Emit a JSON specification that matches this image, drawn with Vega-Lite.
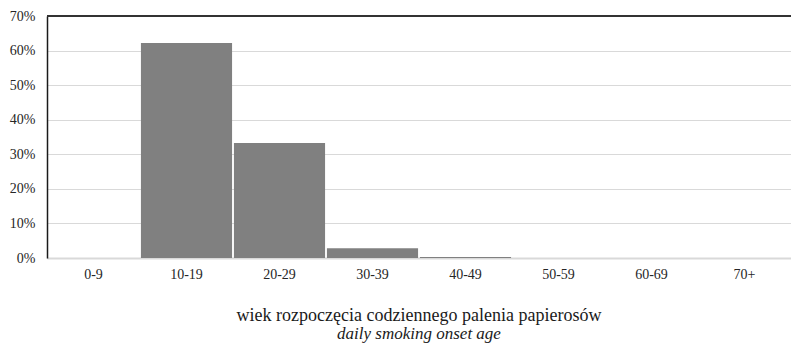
{
  "$schema": "https://vega.github.io/schema/vega-lite/v6.json",
  "width": 744,
  "height": 242,
  "autosize": {"type": "none"},
  "padding": {"left": 47, "top": 16, "right": 0, "bottom": 85},
  "background": "white",
  "config": {
    "font": "Liberation Serif",
    "view": {"stroke": null},
    "axis": {
      "labelFont": "Liberation Serif",
      "labelFontSize": 14,
      "labelColor": "#262626",
      "ticks": false,
      "title": null
    },
    "axisX": {
      "labelAngle": 0,
      "labelPadding": 9,
      "domainColor": "#d9d9d9",
      "domainWidth": 2,
      "grid": false
    },
    "axisY": {
      "labelPadding": 12,
      "labelOverlap": false,
      "domainColor": "#1a1a1a",
      "domainWidth": 1.5,
      "gridColor": "#d9d9d9",
      "gridWidth": 1
    },
    "title": {"font": "Liberation Serif", "subtitleFont": "Liberation Serif"}
  },
  "title": {
    "text": "wiek rozpoczęcia codziennego palenia papierosów",
    "subtitle": "daily smoking onset age",
    "orient": "bottom",
    "anchor": "middle",
    "fontSize": 18,
    "fontWeight": "normal",
    "color": "#1a1a1a",
    "subtitleFontSize": 17,
    "subtitleFontStyle": "italic",
    "subtitleColor": "#1a1a1a",
    "subtitlePadding": 1,
    "offset": 26
  },
  "data": {
    "values": [
      {"age": "0-9", "share": 0.0},
      {"age": "10-19", "share": 0.622},
      {"age": "20-29", "share": 0.333},
      {"age": "30-39", "share": 0.028},
      {"age": "40-49", "share": 0.003},
      {"age": "50-59", "share": 0.0},
      {"age": "60-69", "share": 0.0},
      {"age": "70+", "share": 0.0}
    ]
  },
  "layer": [
    {
      "mark": {"type": "bar", "color": "#808080"},
      "encoding": {
        "x": {
          "field": "age",
          "type": "nominal",
          "sort": null,
          "scale": {"paddingInner": 0.02, "paddingOuter": 0.01},
          "axis": {"title": null}
        },
        "y": {
          "field": "share",
          "type": "quantitative",
          "scale": {"domain": [0, 0.7]},
          "axis": {
            "title": null,
            "format": ".0%",
            "values": [0, 0.1, 0.2, 0.3, 0.4, 0.5, 0.6, 0.7]
          }
        }
      }
    },
    {
      "mark": {"type": "rule", "color": "#333333", "strokeWidth": 1.5},
      "encoding": {
        "y": {
          "datum": 0.7,
          "type": "quantitative",
          "axis": {
            "title": null,
            "format": ".0%",
            "values": [0, 0.1, 0.2, 0.3, 0.4, 0.5, 0.6, 0.7]
          }
        }
      }
    }
  ]
}
